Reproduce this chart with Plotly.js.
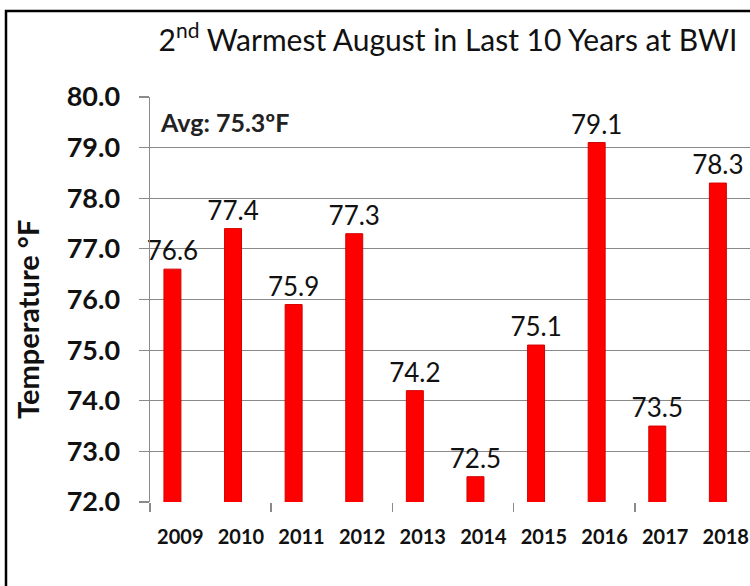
<!DOCTYPE html>
<html>
<head>
<meta charset="utf-8">
<script src="https://cdn.plot.ly/plotly-3.0.1.min.js"></script>
<style>html,body{margin:0;padding:0;background:#fff;}#chart{width:750px;height:586px;}</style>
</head>
<body>
<div id="chart"></div>
<script>
const years = ["2009","2010","2011","2012","2013","2014","2015","2016","2017","2018"];
const temps = [76.6, 77.4, 75.9, 77.3, 74.2, 72.5, 75.1, 79.1, 73.5, 78.3];
const avgLabel = "Avg: 75.3ºF";
const yTitle = "Temperature °F";
const yTicks = [72, 73, 74, 75, 76, 77, 78, 79, 80];
const majorTickPositions = [-0.5, 1.5, 3.5, 5.5, 7.5, 9.5];

const FONT = "Lato, 'Open Sans', sans-serif";
const GRID = "#8a8a8a";

const traces = [
  {
    type: "bar",
    x: years,
    y: temps,
    width: 0.28,
    offset: -0.27,
    marker: {color: "#ff0000", line: {color: "#d40000", width: 1}},
    text: temps.map(v => v.toFixed(1)),
    textposition: "outside",
    constraintext: "none",
    textfont: {family: FONT, size: 26, color: "#111"},
    cliponaxis: false,
    hoverinfo: "x+y"
  },
  {
    type: "scatter",
    x: [],
    y: [],
    xaxis: "x2",
    yaxis: "y",
    showlegend: false,
    hoverinfo: "skip"
  }
];

const layout = {
  width: 750,
  height: 586,
  margin: {l: 150, r: 0, t: 97, b: 84},
  paper_bgcolor: "#fff",
  plot_bgcolor: "#fff",
  showlegend: false,
  font: {family: FONT, color: "#111"},
  title: {
    text: "2<sup>nd</sup> Warmest August in Last 10 Years at BWI",
    font: {family: FONT, size: 30, color: "#111"},
    x: 448 / 750, xanchor: "center", xref: "container",
    y: 1 - 40 / 586, yanchor: "middle", yref: "container"
  },
  xaxis: {
    type: "category",
    range: [-0.5, 9.4],
    showgrid: false,
    ticks: "",
    showline: false,
    zeroline: false,
    tickfont: {family: FONT, size: 20, color: "#111", weight: "bold"},
    ticklabelstandoff: 21,
    fixedrange: true
  },
  xaxis2: {
    overlaying: "x",
    anchor: "y",
    type: "linear",
    range: [-0.5, 9.4],
    tickvals: majorTickPositions,
    ticks: "outside",
    ticklen: 9,
    tickcolor: GRID,
    tickwidth: 1.5,
    showticklabels: false,
    showgrid: false,
    zeroline: false,
    showline: false,
    side: "bottom"
  },
  yaxis: {
    range: [72, 80],
    tickvals: yTicks,
    tickformat: ".1f",
    showgrid: true,
    gridcolor: GRID,
    gridwidth: 1.2,
    ticks: "outside",
    ticklen: 10,
    tickcolor: GRID,
    tickwidth: 1.2,
    showline: true,
    linecolor: GRID,
    linewidth: 1.5,
    zeroline: false,
    tickfont: {family: FONT, size: 27, color: "#111", weight: "bold"},
    ticklabelstandoff: 13,
    automargin: false,
    fixedrange: true
  },
  annotations: [
    {
      text: avgLabel,
      xref: "paper", yref: "y",
      x: 8 / 600, y: 79.5,
      xanchor: "left", yanchor: "middle",
      showarrow: false,
      font: {family: FONT, size: 25, color: "#222", weight: "bold"}
    },
    {
      text: yTitle,
      textangle: -90,
      xref: "paper", yref: "paper",
      x: (27 - 150) / 600, y: (502 - 320) / 405,
      xanchor: "center", yanchor: "middle",
      showarrow: false,
      font: {family: FONT, size: 29, color: "#111", weight: "bold"}
    }
  ],
  shapes: [
    {
      type: "rect",
      xref: "paper", yref: "paper",
      x0: (6 - 150) / 600, x1: 1.2,
      y0: -0.5, y1: (502 - 11) / 405,
      line: {color: "#000", width: 2.5},
      fillcolor: "rgba(0,0,0,0)",
      layer: "above"
    }
  ]
};

Plotly.newPlot("chart", traces, layout, {displayModeBar: false, staticPlot: true});
</script>
</body>
</html>
